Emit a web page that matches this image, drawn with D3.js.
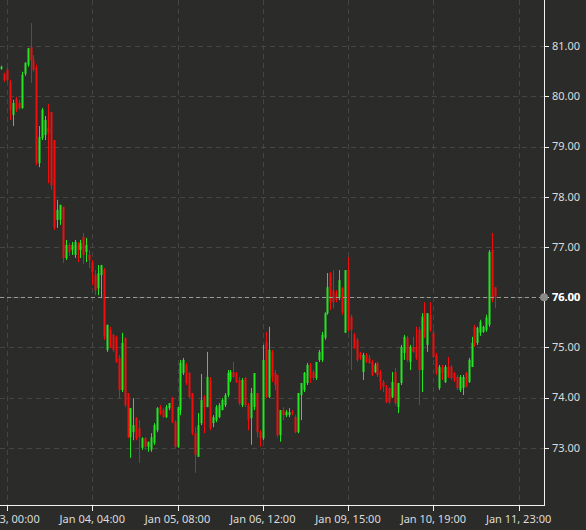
<!DOCTYPE html>
<html>
<head>
<meta charset="utf-8">
<script src="https://cdn.jsdelivr.net/npm/d3@7"></script>
<style>
  html, body { margin: 0; padding: 0; background: #2b2c2a; }
  svg { display: block; }
  text { font-family: "Noto Sans", "DejaVu Sans", sans-serif; }
</style>
</head>
<body>
<svg id="chart" width="586" height="530"></svg>
<script>
// ---- DATA ----
// candles: [open, high, low, close]
const candles = [
[80.55,80.61,80.53,80.59],[80.45,80.47,80.29,80.33],[80.53,80.57,80.29,80.33],[80.29,80.33,79.53,79.73],
[79.63,79.93,79.41,79.87],[79.95,79.99,79.69,79.73],[79.87,79.93,79.73,79.77],[79.77,80.49,79.75,80.43],
[80.45,80.68,80.41,80.67],[80.63,80.96,80.59,80.96],[80.98,81.46,80.27,80.72],[80.72,80.82,80.49,80.53],
[80.57,80.63,78.63,78.67],[78.67,79.41,78.59,79.19],[79.17,79.77,79.13,79.73],[79.23,79.61,79.13,79.53],
[79.37,79.85,78.27,79.27],[79.69,79.69,78.14,78.23],[79.13,79.13,77.34,77.38],[77.54,77.94,77.38,77.74],
[77.54,77.84,77.44,77.84],[77.80,77.80,76.68,76.78],[76.78,77.14,76.74,77.04],[77.04,77.08,76.82,76.90],
[76.94,77.10,76.84,77.04],[76.84,77.14,76.78,77.10],[77.04,77.10,76.70,76.94],
[76.94,77.14,76.78,77.08],[77.20,77.28,76.66,76.84],[76.90,77.18,76.70,77.04],[76.84,76.94,76.58,76.74],
[76.70,76.74,76.24,76.50],[76.44,76.54,76.04,76.14],[76.18,76.64,76.04,76.48],[76.44,76.64,75.98,76.64],
[76.54,76.58,75.15,75.21],[74.95,75.45,74.91,75.45],[75.35,75.41,74.99,75.01],[75.25,75.27,74.91,74.95],
[75.21,75.23,74.69,74.71],[74.79,74.85,73.99,74.15],[74.15,75.29,74.11,75.09],[75.19,75.19,73.81,73.85],
[74.09,74.09,73.19,73.21],[73.21,73.79,72.80,73.79],[73.31,73.99,73.15,73.45],[73.59,73.61,73.15,73.19],
[73.39,73.55,72.70,73.21],[73.00,73.21,72.96,73.19],[73.19,73.21,72.96,73.02],[73.02,73.12,72.92,73.12],
[72.96,73.29,72.92,73.21],[73.10,73.49,73.06,73.45],[73.35,73.81,73.31,73.79],[73.81,73.85,73.65,73.69],
[73.75,73.79,73.59,73.61],[73.61,73.85,73.59,73.81],[73.79,73.89,73.75,73.89],[73.99,74.01,73.49,73.51],
[73.51,73.55,73.00,73.02],[73.02,73.81,73.00,73.81],[73.75,74.75,73.65,74.69],[74.49,74.79,74.45,74.75],
[74.65,74.69,74.25,74.29],[74.49,74.51,73.99,74.01],[74.09,74.09,73.25,73.29],[73.29,73.41,72.50,72.86],
[72.82,73.69,72.82,73.45],[73.49,74.47,73.45,73.95],[74.01,74.05,73.29,73.81],[73.81,74.91,73.81,74.41],
[74.35,74.41,73.35,73.39],[73.49,73.65,73.41,73.61],[73.55,73.85,73.51,73.81],[73.61,73.89,73.59,73.85],
[73.75,73.99,73.75,73.95],[73.85,74.09,73.81,74.05],[74.05,74.55,74.01,74.49],[74.35,74.55,74.31,74.51],
[74.51,74.71,74.39,74.41],[74.49,74.51,74.29,74.31],[74.35,74.41,73.85,73.89],[73.85,74.39,73.81,74.35],
[74.39,74.41,73.81,73.85],[73.85,73.89,73.35,73.55],[73.59,74.19,73.06,74.09],[73.81,74.49,73.75,74.49],
[74.09,74.09,73.21,73.31],[73.31,73.35,73.02,73.19],[73.19,75.05,73.15,74.75],[75.11,75.31,73.99,74.01],
[74.01,75.41,73.99,74.95],[74.91,74.95,74.31,74.41],[74.49,74.55,74.15,74.25],[74.45,74.45,73.21,73.25],
[73.25,73.75,73.12,73.75],[73.75,73.81,73.55,73.65],[73.65,73.75,73.61,73.71],[73.65,73.79,73.61,73.71],
[73.71,73.75,73.65,73.69],[73.61,73.65,73.29,73.31],[73.31,74.09,73.29,74.09],[74.05,74.29,73.55,74.29],
[74.15,74.51,74.11,74.49],[74.29,74.69,74.25,74.65],[74.65,74.69,74.29,74.39],[74.51,74.55,74.35,74.39],
[74.39,74.71,74.35,74.71],[74.75,74.95,74.71,74.91],[74.75,75.31,74.71,75.25],[75.19,75.70,75.15,75.68],
[75.68,76.48,75.65,76.20],[76.48,76.50,75.74,75.90],[76.14,76.54,75.78,75.90],[76.08,76.14,75.90,75.94],
[75.98,76.54,75.94,76.34],[76.18,76.20,75.65,75.70],[75.29,76.54,75.29,76.54],[76.54,76.80,75.31,75.35],
[75.61,75.65,74.55,75.35],[75.25,75.29,74.97,75.01],[75.15,75.19,74.71,74.75],[74.89,74.91,74.75,74.79],
[74.51,74.89,74.35,74.85],[74.85,74.89,74.69,74.71],[74.79,74.85,74.67,74.69],[74.71,74.75,74.43,74.45],
[74.51,74.69,74.49,74.65],[74.69,74.71,74.41,74.45],[74.51,74.55,74.15,74.31],[74.31,74.35,74.11,74.21],
[74.21,74.25,73.89,73.91],[74.19,74.21,73.87,73.91],[74.01,74.51,73.99,74.31],[74.51,74.59,73.85,73.89],
[73.81,74.29,73.69,74.29],[74.29,75.05,74.25,75.01],[74.89,75.25,74.75,75.21],[75.19,75.23,74.71,74.75],
[74.71,75.05,74.55,75.01],[75.01,75.21,74.89,74.91],[74.99,75.41,74.75,74.79],[75.35,75.41,73.85,74.55],
[74.55,75.68,74.11,75.61],[75.68,75.90,75.19,75.21],[75.05,75.68,74.91,75.68],[75.65,75.90,75.31,75.35],
[75.29,75.35,74.79,74.81],[74.85,74.89,74.45,74.49],[74.19,74.65,74.15,74.61],[74.59,74.65,74.35,74.49],
[74.31,74.65,74.29,74.61],[74.61,74.81,74.39,74.41],[74.61,74.65,74.35,74.39],[74.49,74.51,74.31,74.35],
[74.41,74.45,74.15,74.19],[74.15,74.45,74.11,74.41],[74.19,74.45,74.05,74.41],[74.49,74.51,74.21,74.21],
[74.31,74.79,74.29,74.75],[74.61,75.21,74.61,75.09],[75.41,75.45,75.01,75.05],[75.09,75.41,75.05,75.39],
[75.29,75.55,75.23,75.51],[75.31,75.43,75.29,75.41],[75.35,75.65,75.31,75.59],[75.45,76.94,75.41,76.90],
[76.94,77.28,75.90,75.94],[76.20,76.20,75.78,76.00]
];
const xTickIndex  = [2, 31, 60, 89, 118, 147, 176];
const xTickLabels = ["Jan 03, 00:00", "Jan 04, 04:00", "Jan 05, 08:00", "Jan 06, 12:00",
                     "Jan 09, 15:00", "Jan 10, 19:00", "Jan 11, 23:00"];
const yTicks = [73, 74, 75, 76, 77, 78, 79, 80, 81];
const yDomain = [71.86, 81.92];
const xDomain = [-0.38, 184.65];

// ---- LAYOUT ----
const W = 544, H = 505;
const svg = d3.select("#chart");
const x = d3.scaleLinear().domain(xDomain).range([0, W]);
const y = d3.scaleLinear().domain(yDomain).range([H, 0]);

const UP = "#22e622", DOWN = "#f20d0d";

svg.append("defs").append("clipPath").attr("id", "plotclip")
  .append("rect").attr("x", 0).attr("y", 0).attr("width", W).attr("height", H);

// grid
const grid = svg.append("g");
grid.selectAll("line.hg").data(yTicks).join("line")
  .attr("x1", 0).attr("x2", W)
  .attr("y1", d => Math.round(y(d)) + 0.5).attr("y2", d => Math.round(y(d)) + 0.5)
  .attr("stroke", "#454644").attr("stroke-dasharray", "5,4");
grid.selectAll("line.vg").data(xTickIndex).join("line")
  .attr("x1", d => Math.round(x(d)) + 0.5).attr("x2", d => Math.round(x(d)) + 0.5)
  .attr("y1", 0).attr("y2", H)
  .attr("stroke", "#454644").attr("stroke-dasharray", "5,4");

// candles
const plot = svg.append("g").attr("clip-path", "url(#plotclip)");
const g = plot.selectAll("g.c").data(candles).join("g");
g.append("line")
  .attr("x1", (d, i) => Math.round(x(i)) + 0.5).attr("x2", (d, i) => Math.round(x(i)) + 0.5)
  .attr("y1", d => y(d[1])).attr("y2", d => y(d[2]))
  .attr("stroke", d => d[3] >= d[0] ? UP : DOWN).attr("stroke-width", 1);
g.append("rect")
  .attr("x", (d, i) => Math.round(x(i)) - 0.5)
  .attr("width", 2)
  .attr("y", d => y(Math.max(d[0], d[3])))
  .attr("height", d => Math.max(1, Math.abs(y(d[0]) - y(d[3]))))
  .attr("fill", d => d[3] >= d[0] ? UP : DOWN);

// last price line
const last = candles[candles.length - 1][3];
svg.append("line")
  .attr("x1", 0).attr("x2", W)
  .attr("y1", Math.round(y(last)) + 0.5).attr("y2", Math.round(y(last)) + 0.5)
  .attr("stroke", "#9a9b99").attr("stroke-dasharray", "4,3");

// axes lines
svg.append("line").attr("x1", W + 0.5).attr("x2", W + 0.5).attr("y1", 0).attr("y2", H + 0.5)
  .attr("stroke", "#f2f2f2").attr("stroke-width", 1);
svg.append("line").attr("x1", 0).attr("x2", W + 1).attr("y1", H + 0.5).attr("y2", H + 0.5)
  .attr("stroke", "#f2f2f2").attr("stroke-width", 1);

// y axis ticks + labels
const ya = svg.append("g");
ya.selectAll("line").data(yTicks).join("line")
  .attr("x1", W).attr("x2", W + 5)
  .attr("y1", d => Math.round(y(d)) + 0.5).attr("y2", d => Math.round(y(d)) + 0.5)
  .attr("stroke", "#f2f2f2");
ya.selectAll("text").data(yTicks).join("text")
  .attr("x", W + 8).attr("y", d => y(d)).attr("dy", "0.35em")
  .attr("fill", "#dcdcdc").attr("font-size", "11px")
  .text(d => d3.format(".2f")(d));

// x axis ticks + labels
const xa = svg.append("g");
xa.selectAll("line").data(xTickIndex).join("line")
  .attr("x1", d => Math.round(x(d)) + 0.5).attr("x2", d => Math.round(x(d)) + 0.5)
  .attr("y1", H).attr("y2", H + 6)
  .attr("stroke", "#f2f2f2");
xa.selectAll("text").data(xTickIndex).join("text")
  .attr("x", d => x(d)).attr("y", H + 18)
  .attr("text-anchor", "middle")
  .attr("fill", "#dcdcdc").attr("font-size", "11px")
  .text((d, i) => xTickLabels[i]);

// last price marker + label
svg.append("circle").attr("cx", W).attr("cy", y(last)).attr("r", 4).attr("fill", "#8a8b89");
svg.append("text").attr("x", W + 8).attr("y", y(last)).attr("dy", "0.35em")
  .attr("fill", "#ffffff").attr("font-size", "11px").attr("font-weight", "bold")
  .text(d3.format(".2f")(last));
</script>
</body>
</html>
